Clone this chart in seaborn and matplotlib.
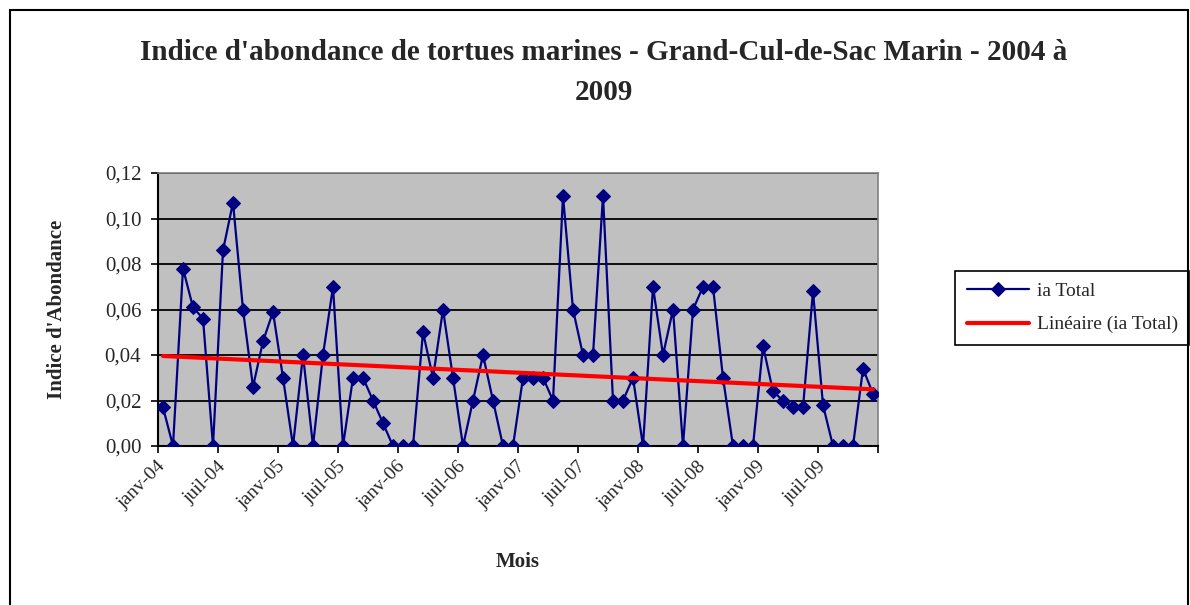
import numpy as np
import pandas as pd
import matplotlib
matplotlib.use('Agg')
import matplotlib.pyplot as plt
import matplotlib.transforms as mtransforms
import seaborn as sns
from matplotlib.patches import Rectangle

# monthly values janv-04 .. dec-09
ia_total = [0.017, 0.0, 0.078, 0.061, 0.056, 0.0, 0.086, 0.107, 0.060, 0.026,
            0.046, 0.059, 0.030, 0.0, 0.040, 0.0, 0.040, 0.070, 0.0, 0.030,
            0.030, 0.020, 0.010, 0.0, 0.0, 0.0, 0.050, 0.030, 0.060, 0.030,
            0.0, 0.020, 0.040, 0.020, 0.0, 0.0, 0.030, 0.030, 0.030, 0.020,
            0.110, 0.060, 0.040, 0.040, 0.110, 0.020, 0.020, 0.030, 0.0, 0.070,
            0.040, 0.060, 0.0, 0.060, 0.070, 0.070, 0.030, 0.0, 0.0, 0.0,
            0.044, 0.024, 0.020, 0.017, 0.017, 0.068, 0.018, 0.0, 0.0, 0.0,
            0.034, 0.023]
month_names = ['janv', 'févr', 'mars', 'avr', 'mai', 'juin',
               'juil', 'août', 'sept', 'oct', 'nov', 'déc']
years = ['04', '05', '06', '07', '08', '09']
mois = ['%s-%s' % (m, y) for y in years for m in month_names]
y_ticks = [0.0, 0.02, 0.04, 0.06, 0.08, 0.10, 0.12]

NAVY = '#000080'
SERIF = ['Liberation Serif', 'DejaVu Serif']


def main():
    df = pd.DataFrame({'idx': np.arange(len(ia_total)), 'ia': ia_total,
                       'mois': mois})

    sns.set_style('white')
    plt.rcParams['font.family'] = SERIF

    fig = plt.figure(figsize=(11.9, 6.05), dpi=100)
    ax = fig.add_axes([158 / 1190, 1 - 446 / 605, 720 / 1190, 273 / 605])
    ax.set_facecolor('#C0C0C0')

    sns.lineplot(data=df, x='idx', y='ia', ax=ax, color=NAVY, lw=1.6,
                 marker='D', markersize=7, markeredgecolor=NAVY,
                 label='ia Total', zorder=3)
    sns.regplot(data=df, x='idx', y='ia', ax=ax, scatter=False, ci=None,
                color='#FF0000', line_kws={'lw': 3, 'zorder': 4},
                label='Linéaire (ia Total)')

    ax.set_xlim(-0.5, len(ia_total) - 0.5)
    ax.set_ylim(0, 0.12)
    ax.set_yticks(y_ticks)
    ax.set_yticklabels([('%.2f' % v).replace('.', ',') for v in y_ticks],
                       fontsize=15)
    ax.yaxis.grid(True, color='black', lw=1.3)
    ax.set_axisbelow(True)

    # tick marks between categories, labels on categories
    ax.set_xticks(np.arange(-0.5, len(ia_total), 6))
    ax.set_xticklabels([])
    lab_pos = np.arange(0, len(ia_total), 6)
    ax.set_xticks(lab_pos, minor=True)
    ax.set_xticklabels([mois[i] for i in lab_pos], minor=True, rotation=45,
                       ha='right', va='center', fontsize=14,
                       rotation_mode='anchor')
    shift = mtransforms.ScaledTranslation(-10 / 100, 0, fig.dpi_scale_trans)
    for lab in ax.get_xticklabels(minor=True):
        lab.set_transform(lab.get_transform() + shift)
    ax.tick_params(axis='x', which='minor', length=0, pad=13)
    ax.tick_params(axis='both', which='major', length=5, width=1.2,
                   color='black', direction='out', bottom=True, left=True)
    ax.tick_params(axis='y', pad=7)

    for side in ['top', 'right']:
        ax.spines[side].set_color('#808080')
        ax.spines[side].set_linewidth(1.2)
    for side in ['left', 'bottom']:
        ax.spines[side].set_color('black')
        ax.spines[side].set_linewidth(1.5)

    ax.set_xlabel('Mois', fontsize=15, fontweight='bold', va='center')
    ax.xaxis.set_label_coords(0.5, (446 - 562) / 273)
    ax.set_ylabel("Indice d'Abondance", fontsize=15, fontweight='bold',
                  va='center')
    ax.yaxis.set_label_coords((57 - 158) / 720, 0.5)

    fig.text(604 / 1190, 1 - 52 / 605,
             "Indice d'abondance de tortues marines - Grand-Cul-de-Sac Marin - 2004 à",
             ha='center', va='center', fontsize=21, fontweight='bold')
    fig.text(604 / 1190, 1 - 92 / 605, '2009', ha='center', va='center',
             fontsize=21, fontweight='bold')

    leg = ax.legend(loc='center left', bbox_to_anchor=(955 / 1190, 1 - 308 / 605),
                    bbox_transform=fig.transFigure, fancybox=False,
                    edgecolor='black', framealpha=1, fontsize=14,
                    handlelength=3.2, borderpad=0.6, labelspacing=0.8,
                    handletextpad=0.4, borderaxespad=0)
    leg.get_frame().set_linewidth(1.2)

    fig.patches.append(Rectangle((10 / 1190, -0.01), 1178 / 1190, 1 - 10 / 605 + 0.01,
                                 transform=fig.transFigure, fill=False,
                                 edgecolor='black', lw=1.5))

    fig.savefig('out.png', dpi=100)


if __name__ == '__main__':
    main()
